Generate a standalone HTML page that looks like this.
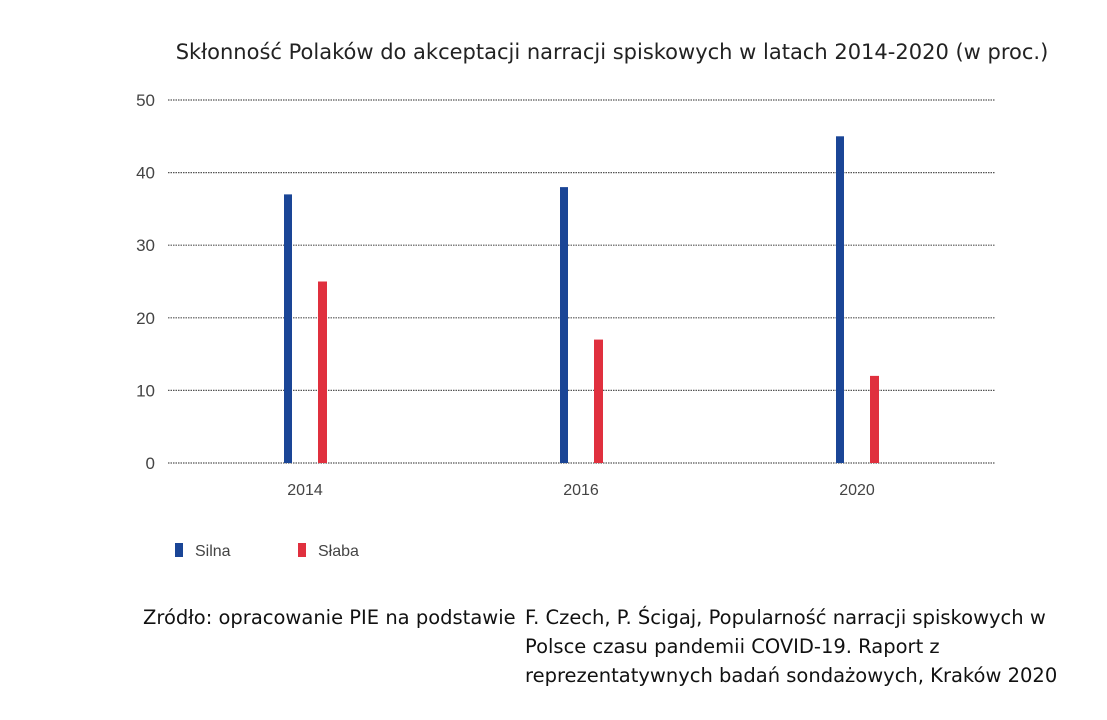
<!DOCTYPE html>
<html><head><meta charset="utf-8"><style>
body{margin:0;background:#fff;width:1107px;height:720px;overflow:hidden;font-family:"Liberation Sans",sans-serif}
svg{position:absolute;left:0;top:0}
.src{position:absolute;font-family:"DejaVu Sans","Liberation Sans",sans-serif;font-size:19.5px;color:#111;line-height:29px}
</style></head><body>
<svg width="1107" height="720">
<text x="612" y="59" text-anchor="middle" font-size="21" fill="#222" font-family="DejaVu Sans, Liberation Sans, sans-serif">Skłonność Polaków do akceptacji narracji spiskowych w latach 2014-2020 (w proc.)</text>
<g id="grid"></g><g id="bars"></g>
<rect x="175" y="543" width="8" height="14" fill="#1a4596"/>
<text x="195" y="556" font-size="16" fill="#444">Silna</text>
<rect x="298" y="543" width="8" height="14" fill="#e0303e"/>
<text x="318" y="556" font-size="16" fill="#444">Słaba</text>
</svg>
<div class="src" style="left:143px;top:603px">Zródło: opracowanie PIE na podstawie</div>
<div class="src" style="left:525px;top:603px">F. Czech, P. Ścigaj, Popularność narracji spiskowych w<br>Polsce czasu pandemii COVID-19. Raport z<br>reprezentatywnych badań sondażowych, Kraków 2020</div>
<script>
const categories=["2014","2016","2020"];
const silna=[37,38,45];
const slaba=[25,17,12];
const ticks=[0,10,20,30,40,50];
const NS="http://www.w3.org/2000/svg";
const y=v=>463-v*7.26;
const xc=i=>305+i*276;
const g=document.getElementById("grid"),b=document.getElementById("bars");
function mk(t,a,p){const e=document.createElementNS(NS,t);for(const k in a)e.setAttribute(k,a[k]);p.appendChild(e);return e;}
ticks.forEach(t=>{
 const l=mk("line",{x1:168,x2:995,y1:y(t),y2:y(t),stroke:"#555","stroke-width":1.2,"stroke-dasharray":"1.5,1"},g);
 
 
 const tx=mk("text",{x:155,y:y(t)+6,"text-anchor":"end","font-size":17,fill:"#444"},g);
 tx.textContent=t;
 
 
});
categories.forEach((c,i)=>{
 const r1=mk("rect",{x:xc(i)-21,y:y(silna[i]),width:8,height:y(0)-y(silna[i]),fill:"#1a4596"},b);
 
 
 const r2=mk("rect",{x:xc(i)+13,y:y(slaba[i]),width:9,height:y(0)-y(slaba[i]),fill:"#e0303e"},b);
 
 
 const tx=mk("text",{x:xc(i),y:495,"text-anchor":"middle","font-size":16,fill:"#444"},b);
 tx.textContent=c;
 
 
});
</script>
</body></html>
